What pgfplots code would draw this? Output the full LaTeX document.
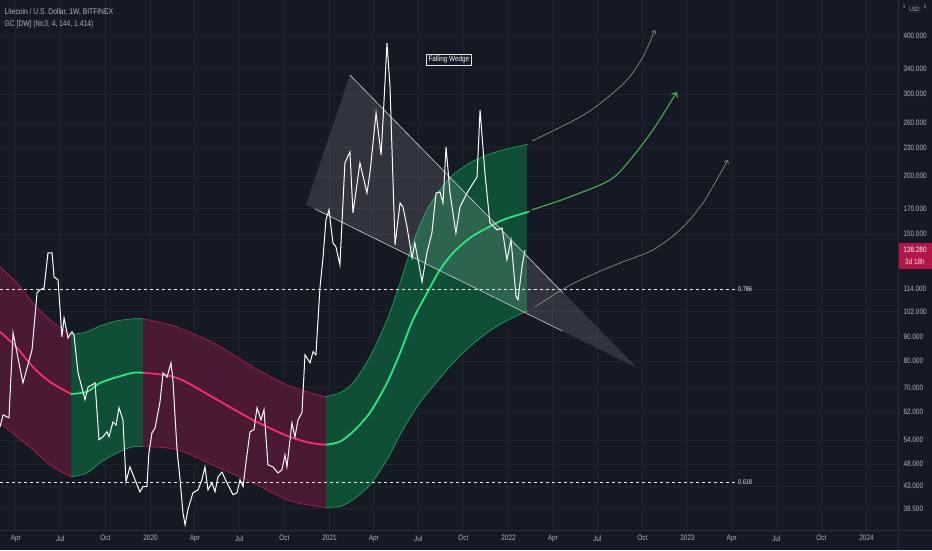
\documentclass[border=0pt]{standalone}
\usepackage{fontspec}
\setmainfont[FakeStretch=0.82]{Liberation Sans}
\usepackage{pgfplots}
\pgfplotsset{compat=1.18}
\usepgfplotslibrary{fillbetween}
\usetikzlibrary{arrows.meta}
\definecolor{bg}{HTML}{151924}
\definecolor{gridc}{HTML}{1F2330}
\definecolor{tickc}{HTML}{B2B5BE}
\definecolor{sepc}{HTML}{2A2E39}
\definecolor{redF}{HTML}{4A1933}
\definecolor{redE}{HTML}{C2185B}
\definecolor{redM}{HTML}{FF2A6E}
\definecolor{grnF}{HTML}{0F4F36}
\definecolor{grnE}{HTML}{22A862}
\definecolor{grnM}{HTML}{2EE67F}
\definecolor{arrG}{HTML}{4CAF50}
\definecolor{arrGray}{HTML}{7C8F82}
\definecolor{lblred}{HTML}{B5164A}
\pagecolor{bg}
\begin{document}
\begin{tikzpicture}
\begin{axis}[at={(0pt,20pt)}, anchor=south west, scale only axis,
  width=898pt, height=530pt,
  xmin=2019.159, xmax=2024.176, ymode=log, ymin=34.6, ymax=477.9,
  axis line style={draw=none}, major tick length=0pt,
  ytick={38.5,43,48,54,62,70,80,90,102,114,150,170,200,230,260,300,340,400},
  yticklabels={38.500,43.000,48.000,54.000,62.000,70.000,80.000,90.000,102.000,114.000,150.000,170.000,200.000,230.000,260.000,300.000,340.000,400.000},
  yticklabel pos=right, yminorticks=false, xminorticks=false,
  xtick={2019.247,2019.496,2019.748,2020,2020.247,2020.496,2020.748,2021,2021.247,2021.496,2021.748,2022,2022.247,2022.496,2022.748,2023,2023.247,2023.496,2023.748,2024},
  xticklabels={Apr,Jul,Oct,2020,Apr,Jul,Oct,2021,Apr,Jul,Oct,2022,Apr,Jul,Oct,2023,Apr,Jul,Oct,2024},
  grid=major, major grid style={gridc, line width=0.6pt},
  tick label style={font=\fontsize{7.8}{9}\selectfont, text=tickc},
  yticklabel style={anchor=west, xshift=2pt},
  xticklabel style={yshift=-2pt},
]
% ---- Gaussian channel bands ----
% segment 1 (red)
\addplot[name path=u1, draw=redE, line width=0.6pt, smooth] coordinates {(2019.159,127.3) (2019.254,117.7) (2019.343,106.6) (2019.438,98.0) (2019.556,91.0)};
\addplot[name path=l1, draw=redE, line width=0.6pt, smooth] coordinates {(2019.159,58.8) (2019.254,54.9) (2019.343,51.5) (2019.438,47.8) (2019.556,45.0)};
\addplot[redF] fill between[of=u1 and l1];
% segment 2 (green)
\addplot[name path=u2, draw=grnE, line width=0.6pt, smooth] coordinates {(2019.556,91.0) (2019.645,92.4) (2019.718,95.1) (2019.813,97.5) (2019.902,98.5) (2019.958,98.5)};
\addplot[name path=l2, draw=grnE, line width=0.6pt, smooth] coordinates {(2019.556,45.0) (2019.645,45.9) (2019.718,48.3) (2019.813,50.7) (2019.902,52.3) (2019.958,52.3)};
\addplot[grnF] fill between[of=u2 and l2];
% segment 3 (red)
\addplot[name path=u3, draw=redE, line width=0.6pt, smooth] coordinates {(2019.958,98.5) (2020.148,94.6) (2020.371,86.6) (2020.572,77.6) (2020.762,71.0) (2020.891,68.3) (2020.980,67.0)};
\addplot[name path=l3, draw=redE, line width=0.6pt, smooth] coordinates {(2019.958,52.3) (2020.148,51.5) (2020.371,47.3) (2020.572,43.7) (2020.762,40.2) (2020.891,39.1) (2020.980,38.7)};
\addplot[redF] fill between[of=u3 and l3];
% segment 4 (green)
\addplot[name path=u4, draw=grnE, line width=0.6pt, smooth] coordinates {(2020.980,67.0) (2021.058,68.3) (2021.131,71.7) (2021.226,81.6) (2021.321,98.0) (2021.394,117.7) (2021.466,143.5) (2021.545,169.0) (2021.617,186.5) (2021.690,201.0) (2021.785,213.2) (2021.880,221.8) (2021.969,227.4) (2022.092,233.1) (2022.103,233.4)};
\addplot[name path=l4, draw=grnE, line width=0.6pt, smooth] coordinates {(2020.980,38.7) (2021.058,38.9) (2021.131,40.2) (2021.226,43.3) (2021.321,49.0) (2021.410,56.9) (2021.505,65.0) (2021.600,72.1) (2021.690,79.2) (2021.785,85.9) (2021.880,91.9) (2021.969,96.6) (2022.092,102.0) (2022.103,102.2)};
\addplot[grnF] fill between[of=u4 and l4];
% ---- falling wedge shading ----
\addplot[fill=white, fill opacity=0.12, draw=none] coordinates {(2020.869,173.2) (2021.114,329.6) (2022.718,77.3)} -- cycle;
% ---- middle lines ----
\addplot[redM, line width=1.8pt, smooth] coordinates {(2019.159,92.4) (2019.254,85.3) (2019.343,77.6) (2019.438,72.1) (2019.556,67.9)};
\addplot[grnM, line width=1.8pt, smooth] coordinates {(2019.556,67.9) (2019.645,68.6) (2019.718,71.7) (2019.813,73.8) (2019.902,75.4) (2019.958,75.4)};
\addplot[redM, line width=1.8pt, smooth] coordinates {(2019.958,75.4) (2020.148,73.5) (2020.371,66.0) (2020.572,59.7) (2020.762,55.2) (2020.891,53.3) (2020.980,52.8)};
\addplot[grnM, line width=1.8pt, smooth] coordinates {(2020.980,52.8) (2021.058,53.6) (2021.131,56.3) (2021.226,61.9) (2021.321,71.7) (2021.394,83.2) (2021.466,98.0) (2021.545,112.0) (2021.617,125.5) (2021.690,136.5) (2021.785,147.1) (2021.880,154.5) (2021.969,160.8) (2022.092,166.5) (2022.103,166.8)};
% ---- fib levels ----
\addplot[white!85!gray, line width=0.8pt, dash pattern=on 3pt off 3pt] coordinates {(2019.159,114.1) (2023.276,114.1)};
\addplot[white!85!gray, line width=0.8pt, dash pattern=on 3pt off 3pt] coordinates {(2019.159,43.8) (2023.276,43.8)};
\node[anchor=west, inner sep=1pt, text=white!85!gray, font=\fontsize{6.8}{8}\selectfont] at (axis cs:2023.276,114.1) {0.786};
\node[anchor=west, inner sep=1pt, text=white!85!gray, font=\fontsize{6.8}{8}\selectfont] at (axis cs:2023.276,43.8) {0.618};
% ---- wedge lines ----
\addplot[white!60!gray, line width=0.6pt] coordinates {(2021.114,329.6) (2022.304,112.0)};
\addplot[white!60!gray, line width=0.6pt] coordinates {(2020.919,169.7) (2022.299,92.8)};
% ---- projected arrows ----
\addplot[arrGray, line width=0.7pt, smooth, -{Straight Barb[length=3pt,width=5pt]}] coordinates {(2022.131,237.7) (2022.304,256.1) (2022.438,273.1) (2022.550,294.2) (2022.662,321.6) (2022.751,360.3) (2022.818,411.9)};
\addplot[arrG, line width=1.1pt, smooth, -{Straight Barb[length=4pt,width=7pt]}] coordinates {(2022.131,169.0) (2022.343,180.2) (2022.567,196.0) (2022.679,216.4) (2022.807,251.1) (2022.941,303.1)};
\addplot[arrGray, line width=0.7pt, smooth, -{Straight Barb[length=3pt,width=5pt]}] coordinates {(2022.148,104.5) (2022.315,114.7) (2022.438,121.2) (2022.623,129.9) (2022.807,138.6) (2022.958,153.0) (2023.086,174.9) (2023.226,216.4)};
% ---- price (weekly close) ----
\addplot[white, line width=1pt] coordinates {
(2019.159,57.6) (2019.176,61.2) (2019.198,60.6) (2019.209,60.3) (2019.232,91.9) (2019.287,71.7) (2019.338,84.5) (2019.366,112.0) (2019.382,113.7) (2019.405,114.7) (2019.427,136.5) (2019.450,136.5) (2019.461,121.2) (2019.483,119.5) (2019.505,90.1) (2019.517,98.9) (2019.539,89.6) (2019.561,92.4) (2019.572,91.0) (2019.595,75.4) (2019.634,66.0) (2019.651,70.3) (2019.673,71.0) (2019.690,71.7) (2019.712,54.1) (2019.734,54.9) (2019.757,56.3) (2019.768,54.9) (2019.790,59.1) (2019.807,58.2) (2019.824,63.4) (2019.846,59.7) (2019.863,44.0) (2019.885,47.3) (2019.913,44.4) (2019.941,41.8) (2019.958,42.9) (2019.980,42.9) (2019.991,50.7) (2020.008,56.0) (2020.025,57.3) (2020.053,65.3) (2020.070,75.4) (2020.092,73.8) (2020.114,79.2) (2020.125,72.8) (2020.148,51.5) (2020.165,44.4) (2020.181,37.7) (2020.193,35.5) (2020.209,38.3) (2020.237,41.6) (2020.265,42.2) (2020.287,44.4) (2020.304,47.3) (2020.321,42.2) (2020.343,43.7) (2020.360,41.8) (2020.377,45.0) (2020.399,46.1) (2020.427,43.7) (2020.461,41.2) (2020.483,41.6) (2020.500,44.4) (2020.517,42.9) (2020.533,48.3) (2020.556,56.3) (2020.578,56.9) (2020.595,63.4) (2020.617,59.7) (2020.634,62.8) (2020.656,47.8) (2020.684,47.3) (2020.712,45.9) (2020.734,46.6) (2020.751,50.2) (2020.762,47.3) (2020.790,58.8) (2020.807,54.9) (2020.824,59.7) (2020.846,61.9) (2020.863,82.4) (2020.891,79.2) (2020.908,83.7) (2020.924,82.4) (2020.947,115.4) (2020.964,133.8) (2020.980,160.8) (2020.997,169.0) (2021.019,143.5) (2021.036,140.6) (2021.058,128.7) (2021.086,213.2) (2021.114,225.2) (2021.131,166.5) (2021.170,213.2) (2021.209,183.7) (2021.226,203.0) (2021.260,273.1) (2021.288,221.8) (2021.299,263.8) (2021.321,386.2) (2021.338,310.6) (2021.366,142.0) (2021.394,174.9) (2021.410,171.5) (2021.433,155.3) (2021.461,133.2) (2021.477,143.5) (2021.517,118.3) (2021.544,136.5) (2021.572,150.7) (2021.595,183.7) (2021.617,184.7) (2021.634,174.9) (2021.651,230.8) (2021.673,183.7) (2021.706,150.7) (2021.729,171.5) (2021.768,183.7) (2021.796,191.2) (2021.824,199.0) (2021.841,277.2) (2021.868,203.0) (2021.896,158.4) (2021.936,153.0) (2021.964,154.5) (2021.991,131.9) (2022.014,145.6) (2022.042,110.0) (2022.053,108.2) (2022.075,127.4) (2022.092,138.3)};
% ---- label ----
\node[draw=white!80!gray, fill=bg, line width=0.5pt, text=white, inner sep=2pt, font=\fontsize{7.8}{9}\selectfont] at (axis cs:2021.667,355.1) {Falling Wedge};
\end{axis}
% frame separators
\draw[sepc, line width=0.8pt] (898pt,0pt) -- (898pt,550pt);
\draw[sepc, line width=0.8pt] (0pt,20pt) -- (932pt,20pt);
% header text
\node[anchor=base west, inner sep=0pt, text=tickc, font=\fontsize{8.2}{9}\selectfont] at (4.5pt,535pt) {Litecoin / U.S. Dollar, 1W, BITFINEX};
\node[anchor=base west, inner sep=0pt, text=tickc, font=\fontsize{8.2}{9}\selectfont] at (4.5pt,523pt) {GC [DW] (hlc3, 4, 144, 1.414)};
% top-right currency marker
\node[inner sep=0pt, text=tickc, font=\fontsize{5}{6}\selectfont] at (904pt,543.5pt) {4};
\node[draw=sepc, rounded corners=1.5pt, inner sep=1.2pt, text=tickc, font=\fontsize{6}{7}\selectfont] at (914.5pt,541pt) {USD};
\node[inner sep=0pt, text=tickc, font=\fontsize{5}{6}\selectfont] at (925pt,543.5pt) {0};
% current price label
\fill[lblred] (898.5pt,281pt) rectangle (932pt,307pt);
\node[inner sep=0pt, text=white, font=\fontsize{7.8}{9}\selectfont] at (915pt,300pt) {138.280};
\node[inner sep=0pt, text=white!85!lblred, font=\fontsize{7.8}{9}\selectfont] at (915pt,288pt) {3d 18h};
\pgfresetboundingbox
\path[use as bounding box] (0pt,0pt) rectangle (932pt,550pt);
\end{tikzpicture}
\end{document}
